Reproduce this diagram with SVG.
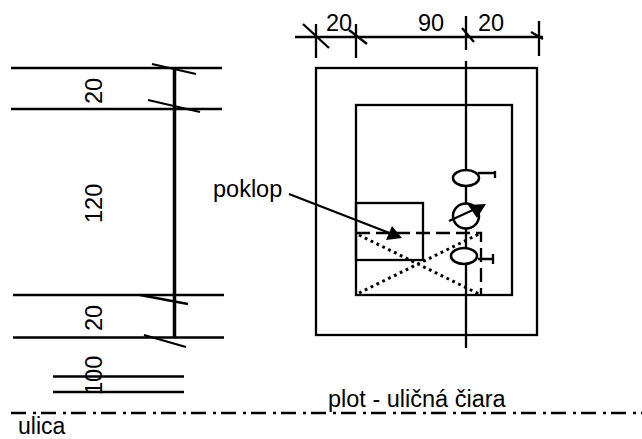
<svg xmlns="http://www.w3.org/2000/svg" width="642" height="439" viewBox="0 0 642 439">
<style>
.l{fill:none;stroke:#000;stroke-width:2.300}
.b{fill:none;stroke:#000;stroke-width:3.500}
.h{fill:#000;stroke:none}
.d{fill:none;stroke:#000;stroke-width:3;stroke-dasharray:2.800 3.700}
.e{fill:#fff;stroke:#000;stroke-width:2.500}
.t{font-family:"Liberation Sans",Arial,sans-serif;font-size:23.500px;fill:#000}
</style>
<rect width="642" height="439" fill="#fff"/>
<g id="connectors">
<g id="dim-top" class="l">
<path d="M295 37H543M316 24V58M356 24V58M466 16V50M539 21V56"/>
<path d="M303 24L329 48M349 30L367 44M462 28L474 42M531 32L543 39"/>
</g>
<g id="dim-left" class="l">
<path d="M11 68H222M11 109H222M13 295H224M13 337.500H224M53 376.500H184M53 392H184"/>
<path d="M152 64L196 74M148 100L200 112M140 295L188 304M144 335L186 347"/>
<path class="b" d="M174.500 69V338"/>
</g>
<path id="street-line" class="l" d="M11 413H642" stroke-dasharray="15 7 3 5"/>
<path id="axis" class="l" d="M466 61V348"/>
<path id="leader" class="l" d="M289 194L392 234"/>
<path class="h" d="M402 238L392 226L386 240Z"/>
</g>
<g id="plot"><rect class="l" x="316" y="68" width="221" height="267"/></g>
<g id="house"><rect class="l" x="356" y="105" width="156" height="190"/></g>
<g id="poklop-box"><rect class="l" x="356" y="203" width="67" height="57"/></g>
<g id="dashed-room">
<path class="l" d="M356 233H481V295" stroke-dasharray="14 6"/>
<path class="d" d="M359 235L479 294M359 293L479 234"/>
</g>
<g id="meter-top">
<ellipse class="e" cx="466" cy="178" rx="13" ry="8"/>
<path class="l" d="M478 173H494M495 171V178"/>
</g>
<g id="pump">
<ellipse class="e" cx="466" cy="216" rx="13" ry="12.500"/>
<path class="l" d="M449 221L475 209"/>
<path class="h" d="M486 204L468 205L477 218Z"/>
</g>
<g id="meter-bottom">
<ellipse class="e" cx="464" cy="256" rx="13" ry="8"/>
<path class="l" d="M478 259H493M493 254V264"/>
</g>
<g id="labels">
<text class="t" x="326" y="31">20</text>
<text class="t" x="418" y="31">90</text>
<text class="t" x="478" y="31">20</text>
<text class="t" x="213" y="196.500">poklop</text>
<text class="t" x="328" y="407">plot - uličná čiara</text>
<text class="t" x="18" y="434" style="font-size:23px">ulica</text>
<text class="t" transform="translate(102 104) rotate(-90)">20</text>
<text class="t" transform="translate(102 223) rotate(-90)">120</text>
<text class="t" transform="translate(102 331) rotate(-90)">20</text>
<text class="t" transform="translate(102 395) rotate(-90)">100</text>
</g>
</svg>
